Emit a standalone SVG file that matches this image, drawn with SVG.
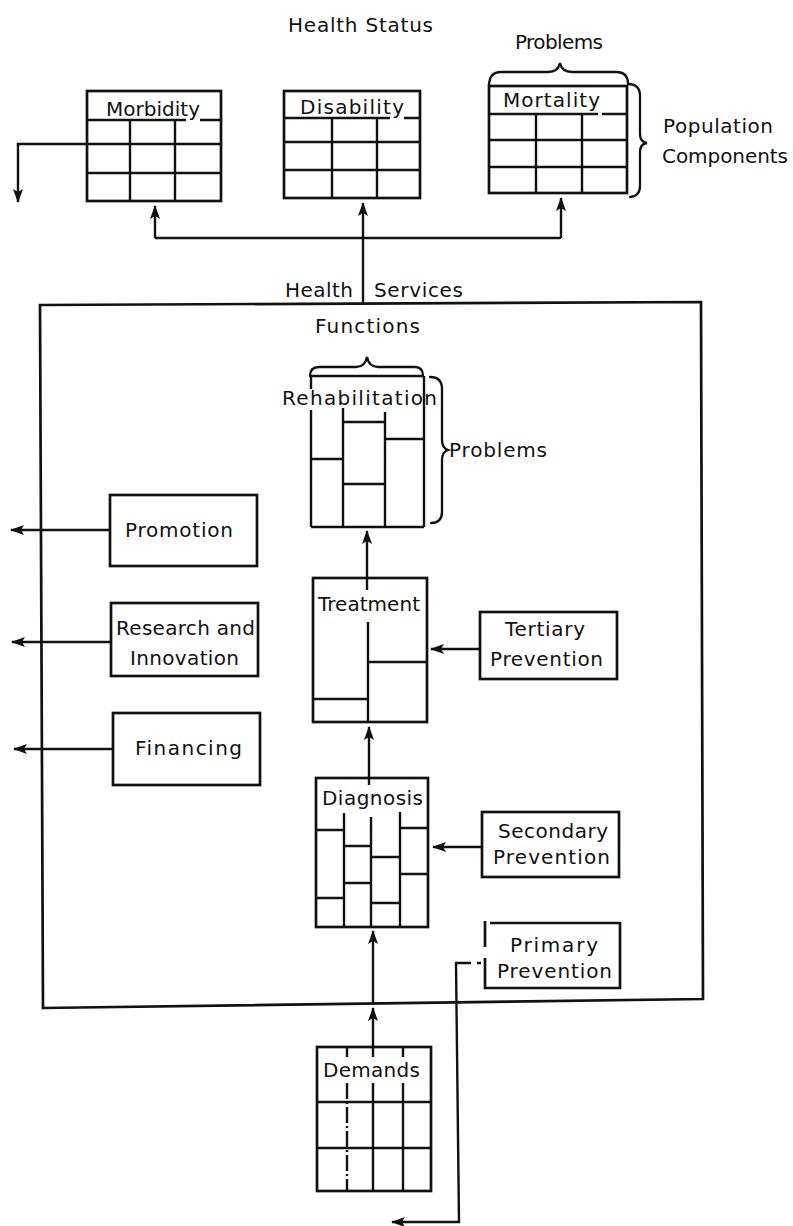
<svg xmlns="http://www.w3.org/2000/svg" width="793" height="1226" viewBox="0 0 793 1226">
  <style>
    .box { fill: none; stroke: #111; stroke-width: 2.7; }
    .cell { fill: none; stroke: #111; stroke-width: 2.4; }
    .conn { fill: none; stroke: #111; stroke-width: 2.4; }
    .brace { fill: none; stroke: #111; stroke-width: 2.3; stroke-linecap: round; }
    text { font-family: "DejaVu Sans", "Liberation Sans", sans-serif; font-size: 20px; fill: #111; }
  </style>
  <defs>
    <marker id="ah" viewBox="0 0 14 10" refX="13" refY="5" markerWidth="14" markerHeight="10" markerUnits="userSpaceOnUse" orient="auto">
      <path d="M0,0 L14,5 L0,10 L3,5 z" fill="#111"/>
    </marker>
  </defs>
  <rect width="793" height="1226" fill="#fff"/>

  <!-- Health status: problems by population components -->
  <g id="health-status">
    <text x="288" y="32" textLength="145">Health Status</text>
  </g>

  <g id="morbidity">
    <rect class="box" x="87" y="91" width="134" height="110"/>
    <text x="106" y="116" textLength="94">Morbidity</text>
    <path class="cell" d="M87,120 H186 M200,120 H221 M87,144 H221 M87,173 H221 M130,120 V201 M175,120 V201"/>
  </g>

  <g id="disability">
    <rect class="box" x="284" y="91" width="136" height="107"/>
    <text x="300" y="114" textLength="104">Disability</text>
    <path class="cell" d="M284,118 H390 M404,118 H420 M284,142 H420 M284,170 H420 M332,118 V198 M377,118 V198"/>
  </g>

  <g id="mortality">
    <rect class="box" x="489" y="86" width="138" height="107"/>
    <text x="503" y="107" textLength="97">Mortality</text>
    <path class="cell" d="M489,114 H598 M602,114 H627 M489,140 H627 M489,167 H627 M536,114 V193 M582,114 V193"/>
    <path class="brace" d="M489,86 Q489,72 501,72 L548,72 Q558,72 560,63 Q562,72 572,72 L616,72 Q628,72 628,84"/>
    <text x="515" y="49" textLength="88">Problems</text>
    <path class="brace" d="M628,84 Q640,84 640,96 L640,134 Q640,142 647,143 Q640,144 640,152 L640,186 Q640,196 630,197"/>
    <text x="663" y="133" textLength="110">Population</text>
    <text x="662" y="163" textLength="126">Components</text>
  </g>

  <!-- Health services system boundary -->
  <g id="health-services">
    <path class="box" d="M40,305 L701,302 L703,999 L43,1008 Z"/>
    <text x="285" y="297" textLength="68">Health</text>
    <text x="374" y="297" textLength="89">Services</text>
    <text x="315" y="333" textLength="105">Functions</text>
  </g>

  <g id="rehabilitation">
    <path class="brace" d="M310,376 Q310,367 319,367 L356,367 Q365,367 367,357 Q369,367 378,367 L415,367 Q423,367 423,376"/>
    <path class="cell" d="M311,376 H424 M311,376 V389 M311,410 V527 M424,376 V527 M311,527 H424 M343,408 V527 M385,412 V527 M311,459 H343 M343,422 H385 M343,484 H385 M385,439 H424"/>
    <text x="282" y="405" textLength="155">Rehabilitation</text>
    <path class="brace" d="M430,377 Q442,377 442,389 L442,440 Q442,448 448,450 Q442,452 442,460 L442,512 Q442,523 431,523"/>
    <text x="449" y="457" textLength="98">Problems</text>
  </g>

  <g id="treatment">
    <rect class="box" x="313" y="578" width="114" height="144"/>
    <text x="318" y="611" textLength="102">Treatment</text>
    <path class="cell" d="M368,622 V722 M368,662 H427 M313,699 H368"/>
  </g>

  <g id="diagnosis">
    <rect class="box" x="316" y="778" width="112" height="149"/>
    <text x="322" y="805" textLength="101">Diagnosis</text>
    <path class="cell" d="M344,813 V927 M371,817 V927 M400,812 V927 M316,830 H344 M316,898 H344 M344,846 H371 M344,883 H371 M371,857 H400 M371,903 H400 M400,828 H428 M400,874 H428"/>
  </g>

  <g id="demands">
    <rect class="box" x="317" y="1047" width="114" height="144"/>
    <text x="323" y="1077" textLength="97">Demands</text>
    <path class="cell" d="M317,1102 H431 M317,1148 H431 M347,1047 V1057 M403,1047 V1057 M373,1083 V1191 M403,1083 V1191"/>
    <path class="cell" stroke-dasharray="16 3 2 3" d="M347,1083 V1191"/>
  </g>

  <g id="promotion">
    <rect class="box" x="110" y="495" width="147" height="71"/>
    <text x="125" y="537" textLength="108">Promotion</text>
  </g>

  <g id="research-innovation">
    <rect class="box" x="111" y="603" width="147" height="73"/>
    <text x="116" y="635" textLength="139">Research and</text>
    <text x="130" y="665" textLength="109">Innovation</text>
  </g>

  <g id="financing">
    <rect class="box" x="113" y="713" width="147" height="72"/>
    <text x="135" y="755" textLength="107">Financing</text>
  </g>

  <g id="tertiary-prevention">
    <rect class="box" x="480" y="612" width="137" height="67"/>
    <text x="505" y="636" textLength="80">Tertiary</text>
    <text x="490" y="666" textLength="113">Prevention</text>
  </g>

  <g id="secondary-prevention">
    <rect class="box" x="482" y="812" width="137" height="65"/>
    <text x="498" y="838" textLength="110">Secondary</text>
    <text x="493" y="864" textLength="117">Prevention</text>
  </g>

  <g id="primary-prevention">
    <path class="box" d="M485,921 V947 M485,958 V988 H620 V923 H490"/>
    <text x="510" y="952" textLength="88">Primary</text>
    <text x="497" y="978" textLength="115">Prevention</text>
  </g>

  <!-- Connectors -->
  <g id="connectors">
    <path class="conn" marker-end="url(#ah)" d="M87,144 H18 V202"/>
    <path class="conn" d="M155,238 H561"/>
    <path class="conn" marker-end="url(#ah)" d="M155,238 V206"/>
    <path class="conn" marker-end="url(#ah)" d="M561,238 V198"/>
    <path class="conn" marker-end="url(#ah)" d="M363,304 V203"/>
    <path class="conn" marker-end="url(#ah)" d="M367,590 V531"/>
    <path class="conn" marker-end="url(#ah)" d="M369,785 V727"/>
    <path class="conn" marker-end="url(#ah)" d="M373,1004 V931"/>
    <path class="conn" marker-end="url(#ah)" d="M373,1057 V1008"/>
    <path class="conn" marker-end="url(#ah)" d="M480,649 H431"/>
    <path class="conn" marker-end="url(#ah)" d="M482,847 H433"/>
    <path class="conn" marker-end="url(#ah)" d="M110,530 H11"/>
    <path class="conn" marker-end="url(#ah)" d="M111,642 H12"/>
    <path class="conn" marker-end="url(#ah)" d="M113,749 H14"/>
    <path class="conn" d="M477,963 H481"/>
    <path class="conn" marker-end="url(#ah)" d="M471,963 H456 L459,1222 H392"/>
  </g>
</svg>
